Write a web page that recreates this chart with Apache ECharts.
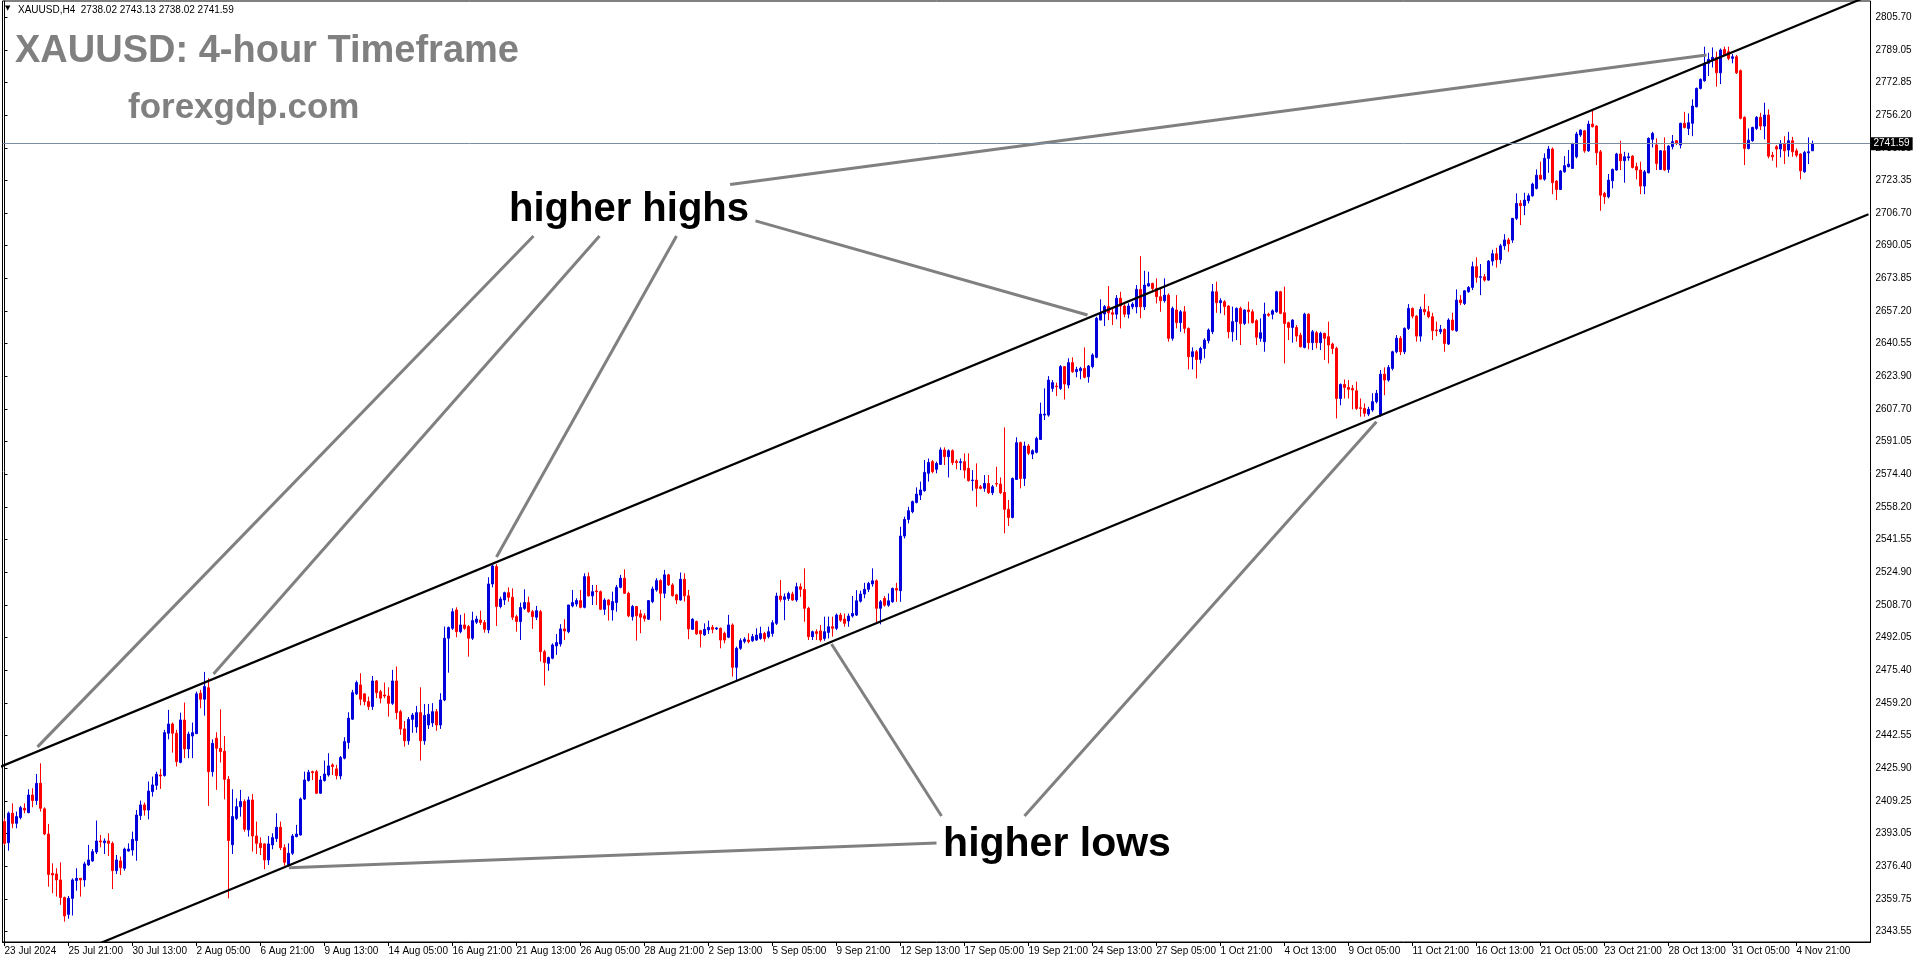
<!DOCTYPE html>
<html><head><meta charset="utf-8">
<script src="https://cdn.jsdelivr.net/npm/echarts@6/dist/echarts.min.js"></script>
<style>html,body{margin:0;padding:0;background:#fff;overflow:hidden}#c{width:1916px;height:964px}</style>
</head><body><div id="c"></div>
<script>
const symbol = 'XAUUSD,H4';
const titleText = 'XAUUSD: 4-hour Timeframe';
const siteText = 'forexgdp.com';
const xTickLabels = ['23 Jul 2024','25 Jul 21:00','30 Jul 13:00','2 Aug 05:00','6 Aug 21:00','9 Aug 13:00','14 Aug 05:00','16 Aug 21:00','21 Aug 13:00','26 Aug 05:00','28 Aug 21:00','2 Sep 13:00','5 Sep 05:00','9 Sep 21:00','12 Sep 13:00','17 Sep 05:00','19 Sep 21:00','24 Sep 13:00','27 Sep 05:00','1 Oct 21:00','4 Oct 13:00','9 Oct 05:00','11 Oct 21:00','16 Oct 13:00','21 Oct 05:00','23 Oct 21:00','28 Oct 13:00','31 Oct 05:00','4 Nov 21:00'];
const yTickLabels = ['2805.70','2789.05','2772.85','2756.20','2739.55','2723.35','2706.70','2690.05','2673.85','2657.20','2640.55','2623.90','2607.70','2591.05','2574.40','2558.20','2541.55','2524.90','2508.70','2492.05','2475.40','2459.20','2442.55','2425.90','2409.25','2393.05','2376.40','2359.75','2343.55'];

const opens = [
2399.2,2388.5,2403.4,2398.3,2401.2,2405.9,2403.7,2412.6,2409.8,2418.5,
2405.6,2392.9,2373.0,2372.7,2369.7,2360.8,2352.3,2360.4,2369.4,2370.5,
2369.7,2377.3,2379.3,2383.8,2389.4,2388.5,2389.4,2388.2,2374.4,2379.3,
2375.6,2384.3,2384.8,2389.6,2402.2,2407.6,2405.0,2414.3,2417.5,2422.7,
2422.4,2443.8,2448.5,2443.8,2429.1,2450.5,2435.9,2442.4,2443.6,2464.0,
2461.0,2466.8,2424.4,2441.3,2436.2,2434.7,2420.5,2387.5,2400.8,2406.7,
2409.3,2395.0,2410.1,2391.9,2388.2,2387.9,2379.8,2387.4,2390.6,2396.3,
2386.0,2377.3,2383.2,2391.6,2392.4,2410.6,2419.9,2424.4,2424.4,2413.5,
2419.9,2422.7,2427.8,2425.8,2422.2,2431.2,2439.1,2450.9,2463.7,2468.2,
2463.7,2459.8,2457.3,2470.2,2464.8,2463.1,2462.6,2458.9,2470.2,2454.7,
2446.0,2440.0,2450.8,2447.0,2454.2,2440.0,2448.0,2449.0,2454.7,2448.0,
2460.6,2491.8,2496.8,2506.1,2495.1,2498.5,2497.7,2491.8,2499.9,2501.0,
2499.7,2496.0,2519.2,2528.0,2507.8,2511.1,2514.8,2512.5,2502.7,2500.2,
2506.9,2509.8,2505.2,2502.4,2505.2,2485.0,2479.1,2481.7,2487.9,2488.9,
2496.5,2495.1,2508.1,2509.1,2510.8,2507.4,2522.9,2513.2,2515.7,2515.3,
2506.4,2511.1,2506.1,2509.8,2517.5,2522.1,2514.5,2502.7,2507.8,2504.1,
2503.1,2501.4,2510.3,2516.2,2520.9,2514.5,2523.8,2518.7,2513.7,2511.1,
2521.6,2513.2,2496.3,2500.2,2495.6,2493.5,2496.0,2497.3,2496.5,2496.8,
2494.3,2492.3,2498.5,2477.1,2486.7,2490.2,2490.9,2490.5,2490.9,2491.7,
2494.2,2492.6,2494.2,2499.3,2513.1,2511.4,2511.9,2514.1,2511.1,2517.8,
2516.5,2506.9,2492.6,2495.1,2495.5,2491.7,2494.7,2497.6,2496.8,2503.5,
2501.5,2500.5,2503.0,2503.5,2510.5,2514.1,2516.5,2519.2,2520.8,2506.9,
2511.9,2508.5,2510.2,2516.9,2515.8,2543.4,2551.8,2555.7,2560.4,2564.1,
2566.3,2575.1,2581.0,2577.1,2579.6,2586.9,2583.5,2586.5,2581.2,2580.5,
2581.0,2577.6,2571.4,2571.7,2568.3,2567.5,2570.0,2565.3,2570.0,2569.7,
2565.5,2556.9,2552.8,2572.0,2590.6,2572.5,2588.9,2584.8,2585.7,2592.2,
2604.5,2604.5,2618.0,2619.2,2618.0,2629.0,2619.7,2631.0,2626.4,2626.9,
2628.1,2623.9,2629.0,2633.7,2652.5,2655.6,2659.3,2656.2,2655.5,2663.5,
2659.6,2655.5,2659.2,2659.2,2668.0,2659.2,2669.7,2671.0,2668.5,2664.3,
2662.3,2665.1,2643.3,2657.6,2651.2,2656.7,2648.3,2634.0,2636.5,2632.6,
2638.2,2642.1,2646.6,2666.8,2661.3,2661.8,2659.6,2646.6,2651.7,2658.4,
2650.8,2657.6,2656.7,2652.2,2643.3,2641.6,2655.5,2655.4,2656.7,2666.8,
2656.2,2651.2,2648.8,2648.8,2644.9,2638.7,2655.5,2641.1,2646.1,2641.1,
2645.8,2644.1,2640.4,2638.2,2612.9,2620.0,2618.5,2618.0,2616.8,2608.2,
2607.9,2605.0,2607.1,2611.3,2604.5,2625.2,2622.2,2628.1,2636.5,2643.3,
2636.5,2648.3,2658.4,2654.5,2644.4,2657.9,2656.7,2654.2,2647.5,2646.6,
2647.8,2640.4,2652.5,2647.1,2662.6,2660.9,2666.8,2669.0,2679.5,2674.1,
2674.4,2672.7,2682.3,2686.0,2683.0,2690.0,2693.0,2692.9,2703.9,2711.4,
2710.3,2712.8,2715.3,2719.0,2725.7,2723.7,2734.2,2738.9,2722.7,2718.5,
2727.4,2730.0,2729.1,2735.0,2746.0,2748.1,2738.0,2751.5,2750.5,2737.5,
2716.5,2714.8,2722.9,2728.3,2736.4,2733.0,2734.5,2735.3,2730.0,2728.3,
2720.2,2726.9,2743.8,2741.0,2728.6,2738.0,2728.6,2740.1,2743.1,2740.9,
2751.9,2749.3,2751.9,2760.3,2769.5,2773.4,2782.2,2783.8,2785.2,2777.4,
2789.2,2788.1,2784.7,2785.5,2778.5,2754.9,2739.2,2743.1,2749.3,2754.9,
2750.5,2756.1,2735.8,2740.1,2738.9,2741.4,2738.4,2743.1,2738.0,2736.4,
2727.4,2737.0,2738.02];

const highs = [
2400.8,2404.2,2408.4,2404.2,2407.1,2408.4,2415.5,2416.0,2423.2,2428.6,
2406.4,2398.0,2378.1,2375.6,2378.6,2361.3,2361.6,2370.5,2375.6,2370.5,
2378.9,2387.4,2385.3,2399.7,2392.4,2390.7,2393.3,2389.1,2382.3,2381.5,
2386.0,2388.2,2394.1,2405.0,2409.8,2408.8,2419.4,2421.9,2424.4,2425.8,
2445.5,2455.6,2449.2,2445.5,2454.2,2459.3,2444.6,2449.2,2464.8,2465.7,
2474.8,2471.6,2440.7,2444.3,2455.9,2442.4,2422.2,2415.5,2410.9,2415.2,
2410.4,2411.8,2413.1,2399.2,2391.2,2388.2,2391.9,2393.3,2403.4,2399.2,
2387.7,2388.2,2392.9,2397.5,2411.4,2424.4,2425.3,2424.9,2425.3,2422.2,
2430.0,2433.7,2428.6,2427.8,2432.3,2441.8,2454.4,2465.7,2470.4,2474.1,
2464.0,2462.3,2472.7,2470.7,2465.7,2469.4,2467.0,2475.8,2477.5,2455.6,
2450.0,2452.0,2454.0,2457.6,2467.0,2458.6,2458.6,2459.0,2456.0,2464.0,
2497.7,2497.7,2506.9,2507.4,2503.6,2504.4,2498.5,2505.2,2503.1,2505.7,
2501.0,2522.6,2528.8,2529.2,2512.8,2515.3,2517.5,2517.0,2503.6,2509.8,
2516.5,2512.8,2506.1,2508.1,2506.1,2485.9,2482.5,2489.2,2493.9,2498.9,
2501.4,2508.6,2516.2,2512.0,2516.2,2524.6,2525.0,2518.7,2518.7,2515.9,
2512.0,2511.5,2515.3,2518.7,2523.8,2526.6,2515.3,2508.6,2508.1,2506.1,
2504.4,2511.1,2517.9,2522.1,2521.6,2526.3,2524.3,2519.6,2514.2,2525.0,
2524.6,2516.2,2501.9,2500.7,2496.0,2499.3,2500.7,2498.5,2497.3,2497.2,
2495.1,2503.6,2499.3,2487.6,2491.8,2492.3,2494.3,2494.0,2496.8,2497.6,
2495.0,2497.6,2500.9,2514.8,2521.2,2514.4,2515.3,2515.3,2519.8,2519.5,
2527.1,2507.7,2495.6,2496.3,2498.5,2502.7,2502.7,2502.7,2504.3,2504.6,
2504.3,2504.3,2513.1,2516.1,2515.8,2519.8,2520.3,2527.1,2521.5,2511.1,
2513.1,2514.4,2517.4,2519.8,2548.1,2553.2,2558.2,2561.3,2568.0,2570.9,
2581.8,2582.6,2581.8,2581.0,2588.2,2588.2,2587.2,2587.2,2582.1,2582.6,
2585.2,2585.2,2576.7,2580.1,2569.2,2574.2,2574.2,2569.2,2578.4,2573.0,
2598.3,2561.6,2573.0,2593.3,2591.1,2591.1,2589.9,2587.2,2593.6,2610.8,
2618.0,2624.2,2622.2,2620.9,2629.8,2629.3,2633.2,2633.7,2628.9,2628.9,
2638.7,2629.8,2635.7,2654.2,2663.0,2660.1,2669.7,2659.0,2665.1,2666.8,
2660.5,2661.0,2661.5,2670.2,2684.8,2677.4,2676.9,2671.4,2673.6,2668.5,
2673.6,2666.0,2659.3,2665.1,2657.6,2659.6,2648.8,2638.7,2637.4,2639.0,
2643.3,2648.3,2670.7,2671.9,2663.5,2662.6,2660.1,2659.3,2658.9,2659.3,
2657.9,2661.8,2657.9,2652.9,2653.4,2661.3,2656.2,2657.9,2667.3,2667.3,
2669.4,2651.7,2652.9,2650.0,2646.1,2656.2,2655.9,2647.5,2647.0,2646.6,
2646.1,2651.7,2641.1,2639.0,2620.5,2622.5,2622.2,2619.7,2621.4,2612.9,
2610.4,2608.7,2615.5,2617.2,2627.3,2628.6,2629.8,2637.0,2644.9,2644.4,
2648.8,2660.6,2658.9,2655.0,2659.3,2665.6,2659.6,2656.2,2651.7,2650.0,
2648.3,2653.4,2656.2,2668.0,2665.1,2667.7,2669.7,2682.0,2684.2,2680.8,
2675.8,2682.8,2688.0,2689.0,2691.0,2695.9,2694.0,2704.0,2716.5,2713.1,
2716.8,2716.5,2721.9,2728.6,2732.5,2736.7,2740.4,2739.7,2723.2,2728.3,
2735.3,2738.4,2742.1,2747.6,2748.8,2748.5,2753.2,2758.6,2751.0,2738.4,
2717.3,2726.3,2729.1,2737.0,2743.1,2737.5,2737.0,2735.8,2732.0,2732.5,
2728.3,2744.8,2747.6,2744.3,2738.4,2744.8,2740.9,2746.0,2743.4,2752.2,
2757.7,2756.9,2764.0,2770.0,2774.6,2790.6,2787.5,2790.2,2788.1,2789.7,
2790.6,2790.6,2786.9,2786.4,2779.1,2755.4,2749.3,2750.2,2755.6,2757.2,
2762.3,2758.9,2737.5,2740.9,2743.4,2745.4,2747.6,2745.1,2739.2,2736.7,
2738.0,2744.8,2743.13];

const lows = [
2387.4,2384.5,2395.8,2395.8,2400.3,2403.4,2403.4,2406.4,2407.6,2404.2,
2392.3,2366.3,2363.0,2361.3,2357.1,2348.6,2350.1,2351.7,2364.3,2361.3,
2366.3,2376.8,2378.8,2382.8,2386.2,2382.8,2381.8,2365.1,2372.7,2372.2,
2374.4,2384.0,2382.0,2379.4,2400.0,2402.2,2400.3,2411.8,2415.2,2415.7,
2421.9,2440.7,2434.0,2427.0,2428.6,2431.2,2431.2,2431.2,2443.4,2456.4,
2452.7,2407.1,2421.9,2415.2,2429.0,2410.4,2360.4,2382.8,2400.0,2401.7,
2394.1,2391.6,2384.0,2382.8,2382.3,2375.1,2377.3,2385.2,2388.9,2384.8,
2376.9,2376.4,2382.3,2391.2,2392.1,2410.1,2419.4,2420.2,2413.1,2413.1,
2419.4,2421.9,2422.7,2420.5,2420.5,2430.6,2435.9,2450.5,2463.1,2457.9,
2457.9,2455.6,2455.6,2461.5,2458.9,2461.5,2452.2,2458.1,2450.8,2443.0,
2437.0,2438.0,2444.0,2444.0,2430.0,2438.0,2446.0,2447.0,2445.0,2446.0,
2460.0,2474.4,2496.0,2492.3,2494.3,2496.0,2482.5,2490.9,2499.0,2498.5,
2494.6,2494.3,2517.5,2498.0,2506.9,2508.6,2510.3,2501.0,2495.1,2490.9,
2506.1,2504.7,2496.5,2501.0,2480.0,2467.9,2475.4,2481.2,2483.4,2487.6,
2490.9,2494.3,2507.4,2507.8,2506.9,2506.9,2512.8,2508.6,2508.6,2506.1,
2503.6,2500.7,2500.7,2505.2,2517.0,2514.2,2502.4,2500.7,2490.6,2494.3,
2500.2,2501.0,2509.5,2515.3,2500.7,2512.0,2518.2,2512.8,2509.1,2510.8,
2510.3,2491.3,2496.0,2493.5,2487.2,2493.0,2494.0,2494.3,2496.0,2486.7,
2489.2,2491.8,2472.4,2470.7,2485.9,2489.2,2489.2,2490.0,2490.5,2491.0,
2490.0,2491.7,2492.6,2498.5,2510.2,2500.9,2510.7,2510.7,2510.2,2512.7,
2500.1,2490.9,2490.9,2490.9,2490.0,2490.5,2491.7,2492.6,2495.9,2500.1,
2497.6,2497.6,2502.2,2503.0,2509.8,2512.0,2515.1,2517.8,2499.6,2498.8,
2507.7,2507.7,2509.7,2510.2,2510.2,2542.2,2549.8,2554.9,2559.9,2561.6,
2565.8,2570.9,2575.1,2575.1,2579.3,2579.3,2573.0,2579.3,2577.1,2576.7,
2572.5,2570.9,2566.3,2558.2,2567.0,2565.8,2564.6,2564.1,2568.3,2564.6,
2544.8,2548.5,2552.3,2571.7,2567.5,2568.7,2584.3,2582.3,2585.2,2591.9,
2602.0,2603.7,2616.3,2614.1,2617.2,2612.4,2618.0,2625.9,2623.6,2622.6,
2623.1,2620.9,2628.1,2633.2,2652.5,2649.5,2652.5,2650.0,2652.9,2648.3,
2654.0,2653.4,2658.0,2655.9,2653.4,2657.6,2669.4,2666.8,2660.9,2656.7,
2661.3,2641.6,2642.1,2648.3,2646.6,2645.8,2627.6,2627.6,2623.0,2630.6,
2633.2,2640.7,2645.4,2656.2,2655.9,2655.0,2643.3,2641.6,2642.4,2639.9,
2650.0,2650.8,2650.8,2639.9,2641.6,2636.5,2654.2,2652.9,2656.2,2655.5,
2630.6,2642.4,2641.1,2641.6,2638.7,2638.2,2637.7,2637.4,2638.2,2637.4,
2632.3,2630.6,2635.3,2602.8,2609.5,2612.9,2612.9,2607.4,2607.1,2603.7,
2603.7,2604.0,2606.2,2610.4,2603.7,2614.6,2621.4,2627.1,2635.7,2634.8,
2635.3,2647.5,2653.4,2641.6,2641.6,2655.0,2653.4,2642.4,2644.4,2645.4,
2636.5,2639.9,2647.1,2646.6,2660.1,2660.1,2666.3,2667.7,2671.4,2665.1,
2671.9,2672.4,2680.0,2679.0,2681.0,2688.0,2687.0,2691.5,2703.0,2700.5,
2705.5,2711.4,2714.8,2718.5,2723.6,2722.9,2726.9,2716.1,2713.1,2718.2,
2726.9,2729.6,2729.1,2734.2,2745.1,2737.0,2737.5,2749.8,2730.8,2707.7,
2711.1,2714.0,2719.0,2728.0,2728.3,2721.9,2733.0,2729.1,2723.6,2716.1,
2716.1,2726.6,2739.7,2728.3,2728.3,2727.9,2726.9,2738.7,2740.9,2739.2,
2749.3,2746.0,2745.4,2759.9,2769.0,2772.9,2775.8,2780.1,2770.4,2771.7,
2785.9,2783.8,2782.2,2776.8,2753.9,2730.8,2738.7,2742.6,2748.5,2748.5,
2743.8,2734.2,2733.0,2729.6,2734.7,2731.3,2735.0,2735.0,2734.7,2723.6,
2726.9,2731.3,2738.02];

const closes = [
2388.2,2403.4,2398.3,2401.7,2406.2,2405.0,2412.6,2409.8,2418.5,2405.9,
2392.9,2372.5,2372.2,2369.7,2360.8,2351.5,2360.4,2369.7,2370.5,2369.7,
2377.8,2379.8,2384.0,2389.4,2388.9,2389.4,2388.2,2374.4,2379.8,2375.9,
2385.3,2385.3,2390.2,2402.5,2407.6,2405.0,2414.6,2417.7,2423.1,2422.2,
2444.1,2448.5,2443.8,2429.5,2450.5,2435.9,2443.4,2444.1,2463.7,2461.0,
2467.4,2424.4,2438.7,2436.2,2434.5,2420.5,2389.6,2401.7,2406.7,2409.3,
2395.3,2410.1,2391.9,2388.2,2386.0,2379.8,2387.9,2391.1,2396.3,2386.0,
2378.6,2383.2,2391.9,2392.9,2410.6,2420.2,2424.1,2423.9,2413.5,2420.2,
2423.2,2427.3,2427.0,2422.4,2431.5,2439.6,2451.4,2464.3,2469.4,2461.0,
2459.8,2457.3,2470.2,2464.3,2461.5,2462.6,2458.9,2470.2,2454.2,2446.0,
2440.0,2450.8,2453.0,2454.2,2440.0,2452.8,2453.4,2454.7,2448.0,2460.6,
2491.8,2497.2,2505.2,2495.1,2498.5,2496.8,2491.8,2500.7,2501.5,2499.7,
2496.3,2519.2,2528.3,2507.8,2511.6,2514.8,2512.5,2502.4,2500.2,2507.3,
2509.8,2505.2,2502.7,2505.7,2485.0,2479.5,2482.0,2488.4,2489.6,2496.5,
2495.5,2508.6,2509.8,2510.8,2507.4,2522.9,2513.2,2515.3,2515.3,2506.4,
2511.1,2508.6,2510.3,2517.5,2522.1,2514.5,2503.1,2507.8,2503.1,2502.4,
2501.7,2510.8,2516.7,2520.9,2514.5,2523.8,2518.7,2513.3,2511.1,2521.6,
2513.2,2496.5,2501.4,2494.0,2494.0,2496.3,2497.3,2496.3,2497.0,2490.9,
2490.9,2498.5,2477.1,2486.7,2490.6,2491.3,2490.1,2492.6,2493.4,2494.2,
2491.5,2495.1,2499.6,2513.1,2511.4,2512.7,2514.4,2511.1,2517.8,2516.5,
2506.9,2492.6,2495.1,2494.2,2490.9,2495.1,2497.6,2496.8,2503.5,2500.9,
2499.3,2503.0,2504.3,2510.7,2514.1,2516.5,2519.5,2520.8,2506.9,2510.2,
2508.5,2510.7,2516.9,2516.1,2543.4,2551.8,2556.2,2560.8,2564.6,2566.7,
2575.6,2580.6,2575.9,2580.1,2586.9,2583.5,2586.5,2580.5,2580.5,2581.0,
2576.7,2571.4,2571.7,2567.5,2567.5,2570.0,2565.3,2568.3,2569.7,2565.3,
2556.9,2552.8,2572.5,2590.6,2572.5,2588.9,2585.2,2586.5,2592.7,2605.0,
2605.0,2622.2,2620.9,2618.9,2629.0,2620.2,2631.0,2626.4,2627.6,2628.1,
2623.6,2629.3,2634.9,2653.4,2655.9,2659.3,2656.2,2655.5,2663.5,2659.6,
2655.5,2659.6,2660.6,2668.0,2659.2,2670.2,2671.0,2668.5,2664.3,2662.3,
2665.1,2643.3,2658.4,2651.2,2656.7,2648.3,2634.0,2636.5,2632.6,2638.2,
2642.4,2647.5,2666.8,2661.3,2662.3,2659.3,2646.6,2651.7,2658.4,2650.8,
2657.6,2656.7,2651.2,2643.8,2646.1,2655.5,2654.9,2657.2,2666.8,2655.9,
2650.8,2648.8,2652.5,2644.4,2639.0,2655.5,2641.1,2646.6,2641.1,2645.8,
2643.3,2639.9,2638.2,2612.9,2620.0,2618.5,2617.5,2617.2,2607.9,2607.9,
2605.4,2607.4,2611.3,2615.5,2625.2,2622.2,2628.6,2636.5,2643.3,2636.5,
2648.3,2658.4,2654.5,2644.4,2657.9,2656.7,2654.2,2647.1,2647.1,2647.8,
2640.7,2652.5,2647.5,2662.6,2661.3,2667.3,2669.0,2679.5,2674.1,2674.4,
2672.7,2682.3,2686.0,2683.0,2690.0,2693.0,2691.0,2703.9,2711.4,2710.3,
2713.1,2715.3,2721.2,2725.7,2723.7,2734.2,2738.9,2721.9,2718.5,2727.8,
2730.5,2731.3,2741.4,2746.5,2748.5,2738.0,2751.5,2750.2,2737.0,2715.6,
2714.8,2723.2,2728.6,2736.4,2733.0,2735.0,2735.0,2729.6,2728.3,2720.2,
2727.4,2744.3,2746.8,2731.6,2738.0,2728.3,2740.4,2742.6,2741.7,2751.9,
2749.8,2752.2,2760.6,2769.5,2774.1,2782.2,2784.2,2785.2,2777.4,2788.9,
2786.4,2784.7,2785.5,2777.4,2754.4,2739.2,2743.4,2749.8,2754.9,2750.5,
2756.1,2735.3,2735.0,2738.9,2741.4,2738.0,2743.1,2737.5,2735.8,2727.9,
2737.2,2737.5,2741.59];

// trend channel (bar index, price)
const upperChannel = [[-1, 2426.9], [466, 2816.2]];
const lowerChannel = [[20, 2334.5], [466, 2706.0]];
// annotation pointers (bar index, price)
const highPointers = [
  [[132.25, 2695.0], [8.25, 2436.9]],
  [[148.75, 2695.0], [52.25, 2473.7]],
  [[168.0, 2695.0], [123.0, 2532.8]],
  [[187.75, 2702.6], [270.75, 2655.1]],
  [[181.4, 2721.0], [425.5, 2786.4]]
];
const lowPointers = [
  [[71.1, 2375.9], [233.0, 2388.3]],
  [[234.25, 2402.0], [206.75, 2488.9]],
  [[255.0, 2402.0], [343.0, 2601.2]]
];
const labelHighs = 'higher highs';
const labelLows = 'higher lows';

const BARS_VISIBLE = 467;
const FONT = 'Liberation Sans';
const cats = Array.from({length: BARS_VISIBLE}, (_, i) => String(i));
const candleData = closes.map((c, i) => [opens[i], c, lows[i], highs[i]]);
const last = closes.length - 1;
const lastClose = closes[last];
const header = symbol + '  ' + [opens[last], highs[last], lows[last], closes[last]].map(v => v.toFixed(2)).join(' ');
const yTicks = yTickLabels.map(Number);
const showX = (idx) => idx % 16 === 0 && idx / 16 < xTickLabels.length;

const lineSeries = (pts, color, width) => ({
  type: 'line', xAxisIndex: 1, yAxisIndex: 0, data: pts, symbol: 'none', silent: true,
  clip: true, z: 4, animation: false,
  lineStyle: {color: color, width: width}
});

const chart = echarts.init(document.getElementById('c'), null, {renderer: 'canvas'});
chart.setOption({
  animation: false,
  backgroundColor: '#ffffff',
  grid: {left: 2.5, right: 45.5, top: 1, bottom: 22, show: true, borderColor: '#000', borderWidth: 1, backgroundColor: '#fff'},
  xAxis: [{
    type: 'category', data: cats, boundaryGap: true, position: 'bottom',
    axisLine: {show: true, lineStyle: {color: '#000', width: 1}},
    axisTick: {show: true, alignWithLabel: true, interval: showX, length: 4, lineStyle: {color: '#000'}},
    axisLabel: {interval: showX, formatter: (v) => xTickLabels[Math.round(Number(v) / 16)] || '', align: 'left',
      margin: 4, fontSize: 10, color: '#000', fontFamily: FONT},
    splitLine: {show: false}
  }, {
    type: 'value', min: -0.5, max: BARS_VISIBLE - 0.5, show: false
  }],
  yAxis: [{
    type: 'value', position: 'right', min: 2338.35, max: 2813.68, scale: true,
    axisLine: {show: true, lineStyle: {color: '#000', width: 1}},
    axisTick: {show: true, length: 3, customValues: yTicks, lineStyle: {color: '#000'}},
    axisLabel: {customValues: yTicks, formatter: (v) => Number(v).toFixed(2), margin: 5, fontSize: 10, color: '#000', fontFamily: FONT},
    splitLine: {show: false}
  }],
  series: [{
    type: 'candlestick', xAxisIndex: 0, yAxisIndex: 0, data: candleData, silent: true,
    barWidth: 2, z: 3,
    itemStyle: {color: '#0000dd', color0: '#ff0000', borderColor: '#0000dd', borderColor0: '#ff0000', borderWidth: 1},
    markLine: {
      silent: true, symbol: ['none', 'none'], animation: false,
      lineStyle: {color: '#7b8da0', width: 1, type: 'solid'},
      label: {show: true, position: 'end', distance: 0, formatter: lastClose.toFixed(2), color: '#fff',
        backgroundColor: '#000', padding: [2, 3, 1, 3], fontSize: 10, fontFamily: FONT},
      data: [{yAxis: lastClose}]
    }
  },
  lineSeries(upperChannel, '#000', 2.2),
  lineSeries(lowerChannel, '#000', 2.2),
  ...highPointers.map(p => lineSeries(p, '#808080', 3)),
  ...lowPointers.map(p => lineSeries(p, '#808080', 3))
  ],
  graphic: [
    {type: 'text', left: 5, top: 5, style: {text: '\u25BC', fontSize: 7, fill: '#000', fontFamily: 'DejaVu Sans'}},
    {type: 'text', x: 18, y: 10, style: {text: header, fontSize: 10, fill: '#000', fontFamily: FONT, verticalAlign: 'middle'}},
    {type: 'text', x: 15, y: 52, style: {text: titleText, fontSize: 38, fontWeight: 'bold', fill: '#808080', fontFamily: FONT, verticalAlign: 'middle'}},
    {type: 'text', x: 128, y: 108, style: {text: siteText, fontSize: 35, fontWeight: 'bold', fill: '#808080', fontFamily: FONT, verticalAlign: 'middle'}},
    {type: 'text', x: 629, y: 210, z: 10, style: {text: labelHighs, fontSize: 40, fontWeight: 'bold', fill: '#000', fontFamily: FONT, align: 'center', verticalAlign: 'middle'}},
    {type: 'text', x: 1057, y: 845, z: 10, style: {text: labelLows, fontSize: 41, fontWeight: 'bold', fill: '#000', fontFamily: FONT, align: 'center', verticalAlign: 'middle'}}
  ]
});
</script>
</body></html>
